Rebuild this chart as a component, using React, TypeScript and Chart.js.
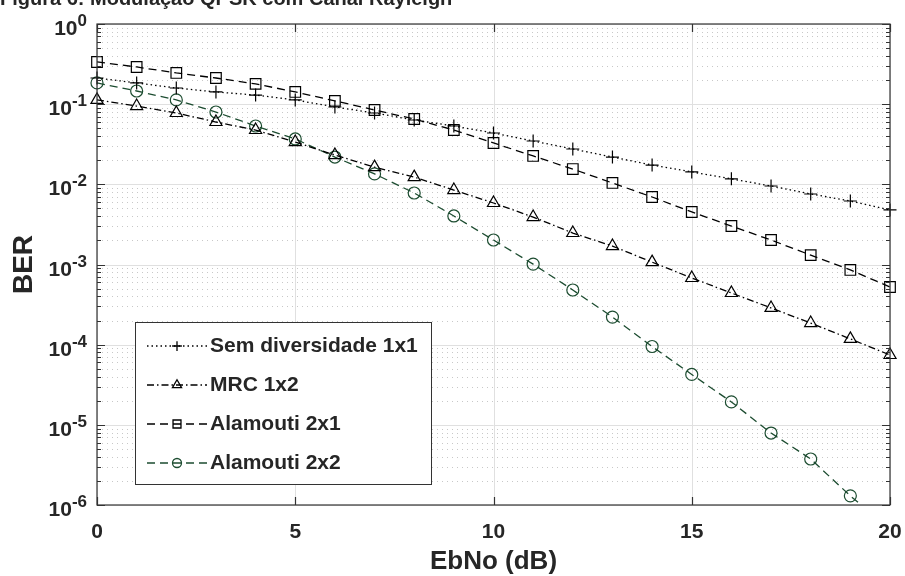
import React, { useEffect, useRef } from "react";
import { Chart, registerables } from "chart.js";

Chart.register(...registerables);

const EBNO = [0, 1, 2, 3, 4, 5, 6, 7, 8, 9, 10, 11, 12, 13, 14, 15, 16, 17, 18, 19, 20];
const SEM_DIV_1X1 = [0.212, 0.184, 0.159, 0.142, 0.13, 0.113, 0.0922, 0.0776, 0.0635, 0.0534, 0.0437, 0.0347, 0.0276, 0.0219, 0.0174, 0.0143, 0.0117, 0.00953, 0.00758, 0.0062, 0.00479];
const MRC_1X2 = [0.113, 0.0948, 0.0776, 0.0599, 0.0476, 0.0337, 0.0232, 0.0164, 0.0123, 0.00849, 0.00585, 0.00391, 0.00247, 0.0017, 0.00107, 0.000679, 0.000441, 0.000287, 0.000186, 0.000118, 0.0000743];
const ALAMOUTI_2X1 = [0.336, 0.291, 0.245, 0.212, 0.179, 0.142, 0.11, 0.0846, 0.0653, 0.0476, 0.0328, 0.0226, 0.0155, 0.0104, 0.00695, 0.00452, 0.00302, 0.00202, 0.00131, 0.000855, 0.000524];
const ALAMOUTI_2X2 = [0.184, 0.146, 0.113, 0.0798, 0.0534, 0.0368, 0.0219, 0.0135, 0.0078, 0.00403, 0.00202, 0.00101, 0.000481, 0.000221, 0.0000949, 0.0000425, 0.0000193, 0.0000079, 0.00000375, 0.0000013, 0.0000005];

const SERIES_LABELS = ["Sem diversidade 1x1", "MRC 1x2", "Alamouti 2x1", "Alamouti 2x2"];
const X_TICKS = [0, 5, 10, 15, 20];
const Y_EXPONENTS = [0, -1, -2, -3, -4, -5, -6];
const TITLE = "Figura 6: Modulação QPSK com Canal Rayleigh";
const X_TITLE = "EbNo (dB)";
const Y_TITLE = "BER";

const TEXT = "#262626";
const AXIS = "#333333";
const GREEN = "rgb(28,76,48)";
const FONT = "Arial, 'Liberation Sans', Helvetica, sans-serif";

const toPoints = (ys: number[]) => EBNO.map((x, i) => ({ x, y: ys[i] }));

function drawMarker(ctx: CanvasRenderingContext2D, style: string, x: number, y: number, r: number) {
  ctx.beginPath();
  if (style === "cross") {
    ctx.moveTo(x - r, y);
    ctx.lineTo(x + r, y);
    ctx.moveTo(x, y - r);
    ctx.lineTo(x, y + r);
  } else if (style === "triangle") {
    const a = (2 * Math.PI) / 3;
    for (let k = 0; k < 3; k++) {
      const px = x + Math.sin(k * a) * r;
      const py = y - Math.cos(k * a) * r;
      if (k === 0) ctx.moveTo(px, py);
      else ctx.lineTo(px, py);
    }
    ctx.closePath();
  } else if (style === "rect") {
    const s = r * Math.SQRT1_2;
    ctx.rect(x - s, y - s, 2 * s, 2 * s);
  } else {
    ctx.arc(x, y, r, 0, Math.PI * 2);
  }
  ctx.stroke();
}

const decorPlugin = {
  id: "matlabDecor",
  beforeDatasetsDraw(chart: any) {
    const { ctx, chartArea: a, scales } = chart;
    const xs = scales.x;
    const ys = scales.y;
    ctx.save();
    ctx.lineWidth = 1;
    // minor dotted grid
    ctx.strokeStyle = "rgb(200,200,200)";
    ctx.setLineDash([1, 4]);
    for (let e = -6; e < 0; e++) {
      for (let k = 2; k <= 9; k++) {
        const py = Math.round(ys.getPixelForValue(k * Math.pow(10, e))) + 0.5;
        ctx.beginPath();
        ctx.moveTo(a.left, py);
        ctx.lineTo(a.right, py);
        ctx.stroke();
      }
    }
    // major grid
    ctx.setLineDash([]);
    ctx.strokeStyle = "rgb(224,224,224)";
    X_TICKS.forEach((t) => {
      const px = Math.round(xs.getPixelForValue(t)) + 0.5;
      ctx.beginPath();
      ctx.moveTo(px, a.top);
      ctx.lineTo(px, a.bottom);
      ctx.stroke();
    });
    Y_EXPONENTS.forEach((e) => {
      const py = Math.round(ys.getPixelForValue(Math.pow(10, e))) + 0.5;
      ctx.beginPath();
      ctx.moveTo(a.left, py);
      ctx.lineTo(a.right, py);
      ctx.stroke();
    });
    ctx.restore();
  },
  afterDatasetsDraw(chart: any) {
    const { ctx, chartArea: a, scales } = chart;
    const xs = scales.x;
    const ys = scales.y;
    ctx.save();
    ctx.strokeStyle = AXIS;
    ctx.lineWidth = 1.2;
    ctx.setLineDash([]);
    ctx.strokeRect(a.left, a.top, a.right - a.left, a.bottom - a.top);
    // x ticks (bottom/top, inward)
    X_TICKS.forEach((t) => {
      const px = Math.round(xs.getPixelForValue(t)) + 0.5;
      ctx.beginPath();
      ctx.moveTo(px, a.bottom);
      ctx.lineTo(px, a.bottom - 8);
      ctx.moveTo(px, a.top);
      ctx.lineTo(px, a.top + 8);
      ctx.stroke();
    });
    // y ticks
    for (let e = -6; e <= 0; e++) {
      for (let k = 1; k <= 9; k++) {
        const v = k * Math.pow(10, e);
        if (v > 1) break;
        const py = Math.round(ys.getPixelForValue(v)) + 0.5;
        const len = k === 1 ? 8 : 4;
        ctx.beginPath();
        ctx.moveTo(a.left, py);
        ctx.lineTo(a.left + len, py);
        ctx.moveTo(a.right, py);
        ctx.lineTo(a.right - len, py);
        ctx.stroke();
      }
    }
    ctx.restore();
  },
  afterDraw(chart: any) {
    const { ctx, chartArea: a, scales } = chart;
    const xs = scales.x;
    const ys = scales.y;
    ctx.save();
    ctx.fillStyle = TEXT;
    // title (partly above the canvas)
    ctx.font = `bold 20px ${FONT}`;
    ctx.textAlign = "left";
    ctx.textBaseline = "alphabetic";
    ctx.fillText(TITLE, 0, 5);
    // y tick labels 10^e
    Y_EXPONENTS.forEach((e) => {
      const py = ys.getPixelForValue(Math.pow(10, e));
      const sup = String(e);
      ctx.font = `bold 17px ${FONT}`;
      const supW = ctx.measureText(sup).width;
      ctx.textAlign = "right";
      const right = a.left - 10;
      ctx.fillText(sup, right, py + 2);
      ctx.font = `bold 21px ${FONT}`;
      ctx.fillText("10", right - supW, py + 11);
    });
    // x tick labels
    ctx.font = `bold 21px ${FONT}`;
    ctx.textAlign = "center";
    X_TICKS.forEach((t) => {
      ctx.fillText(String(t), xs.getPixelForValue(t), 538);
    });
    // axis titles
    ctx.font = `bold 26px ${FONT}`;
    ctx.fillText(X_TITLE, (a.left + a.right) / 2, 569);
    ctx.save();
    ctx.translate(32, (a.top + a.bottom) / 2);
    ctx.rotate(-Math.PI / 2);
    ctx.font = `bold 28px ${FONT}`;
    ctx.fillText(Y_TITLE, 0, 0);
    ctx.restore();

    // legend
    const lx = 135.5, ly = 322.5, lw = 296, lh = 162;
    ctx.fillStyle = "#ffffff";
    ctx.fillRect(lx, ly, lw, lh);
    ctx.strokeStyle = AXIS;
    ctx.lineWidth = 1;
    ctx.strokeRect(lx, ly, lw, lh);
    chart.data.datasets.forEach((ds: any, i: number) => {
      const ry = 346 + i * 39;
      ctx.strokeStyle = ds.borderColor;
      ctx.lineWidth = ds.borderWidth;
      ctx.setLineDash(ds.borderDash || []);
      ctx.beginPath();
      ctx.moveTo(147, ry);
      ctx.lineTo(207, ry);
      ctx.stroke();
      ctx.setLineDash([]);
      drawMarker(ctx, ds.pointStyle, 177, ry, ds.pointRadius * 0.75);
      ctx.fillStyle = TEXT;
      ctx.font = `bold 21px ${FONT}`;
      ctx.textAlign = "left";
      ctx.textBaseline = "middle";
      ctx.fillText(ds.label, 210, ry);
    });
    ctx.restore();
  },
};

export default function App() {
  const ref = useRef<HTMLCanvasElement | null>(null);
  useEffect(() => {
    document.body.style.margin = "0";
    const canvas = ref.current;
    if (!canvas) return;
    const clip = { left: 12, right: 12, top: 12, bottom: 0 };
    const common = {
      fill: false,
      tension: 0,
      borderWidth: 1.3,
      pointBorderWidth: 1.2,
      pointBackgroundColor: "rgba(0,0,0,0)",
      clip,
    };
    const chart = new Chart(canvas, {
      type: "line",
      data: {
        datasets: [
          { ...common, label: SERIES_LABELS[0], data: toPoints(SEM_DIV_1X1), borderColor: "#000", pointBorderColor: "#000", borderDash: [1.5, 3], pointStyle: "cross", pointRadius: 6.5 },
          { ...common, label: SERIES_LABELS[1], data: toPoints(MRC_1X2), borderColor: "#000", pointBorderColor: "#000", borderDash: [7, 3, 1.5, 3], pointStyle: "triangle", pointRadius: 7 },
          { ...common, label: SERIES_LABELS[2], data: toPoints(ALAMOUTI_2X1), borderColor: "#000", pointBorderColor: "#000", borderDash: [8, 5], pointStyle: "rect", pointRadius: 7.5 },
          { ...common, label: SERIES_LABELS[3], data: toPoints(ALAMOUTI_2X2), borderColor: GREEN, pointBorderColor: GREEN, borderDash: [8, 5], pointStyle: "circle", pointRadius: 6 },
        ] as any,
      },
      options: {
        animation: false,
        responsive: false,
        maintainAspectRatio: false,
        layout: { padding: { left: 97, top: 24, right: 15, bottom: 71 } },
        plugins: { legend: { display: false }, tooltip: { enabled: false }, title: { display: false } },
        scales: {
          x: { type: "linear", min: 0, max: 20, display: false },
          y: { type: "logarithmic", min: 1e-6, max: 1, display: false },
        },
      },
      plugins: [decorPlugin],
    });
    return () => chart.destroy();
  }, []);
  return <canvas ref={ref} width={905} height={576} style={{ display: "block" }} />;
}
